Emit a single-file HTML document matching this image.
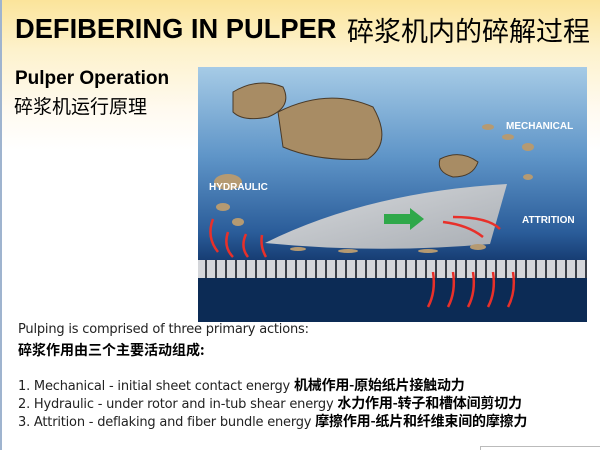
<!DOCTYPE html>
<html><head><meta charset="utf-8"><style>
*{margin:0;padding:0;box-sizing:border-box}
body{width:600px;height:450px;overflow:hidden;position:relative;font-family:"Liberation Sans","Noto Sans CJK SC",sans-serif;
background:linear-gradient(#fbe49a 0px,#fdf2cc 50px,#fffaf0 110px,#fff 150px);}
.lb{position:absolute;left:0;top:0;width:2px;height:450px;background:#9fb4cf}
.t{position:absolute;white-space:nowrap;color:#000}
.sub{font-family:"DejaVu Sans","Noto Sans CJK SC",sans-serif;font-size:13px;color:#222;letter-spacing:-0.2px}
.cn{font-family:"Noto Sans CJK SC",sans-serif;font-weight:bold;font-size:14px}
</style></head><body>
<div class="lb"></div>
<div class="t" style="left:15px;top:13px;font-size:27.3px;font-weight:bold;">DEFIBERING IN PULPER</div>
<div class="t" style="left:347px;top:10px;font-size:27px;font-family:'Noto Sans CJK SC',sans-serif">碎浆机内的碎解过程</div>
<div class="t" style="left:15px;top:68px;font-size:19px;font-weight:bold">Pulper Operation</div>
<div class="t" style="left:14px;top:92px;font-size:19px;font-family:'Noto Sans CJK SC',sans-serif">碎浆机运行原理</div>
<svg style="position:absolute;left:198px;top:67px" width="389" height="255" viewBox="0 0 389 255">
<defs>
<linearGradient id="sky" x1="0" y1="0" x2="0" y2="1">
<stop offset="0" stop-color="#a6cbe6"/><stop offset="0.35" stop-color="#5f95c8"/><stop offset="0.65" stop-color="#2a5c99"/><stop offset="0.76" stop-color="#163c72"/></linearGradient>
<linearGradient id="blade" x1="0" y1="0" x2="1" y2="1"><stop offset="0" stop-color="#d8dadd"/><stop offset="1" stop-color="#a9aeb4"/></linearGradient>
<pattern id="scr" width="10" height="18" patternUnits="userSpaceOnUse"><rect width="10" height="18" fill="#d4d6da"/><rect x="7" width="2" height="18" fill="#3a3f48"/></pattern>
</defs>
<rect width="389" height="255" fill="url(#sky)"/>
<rect y="193" width="389" height="62" fill="#0c2b55"/>
<rect y="193" width="389" height="18" fill="url(#scr)"/>
<path d="M67 176 Q170 125 309 117 L292 177 Q180 187 67 176Z" fill="url(#blade)"/>
<path d="M186 147 h26 v-6 l14 11 -14 11 v-6 h-26z" fill="#2fa84a"/>
<g fill="#a88c64" stroke="#4a3a28" stroke-width="1">
<path d="M35 25 Q60 10 85 20 Q95 40 70 50 Q45 55 35 45Z"/>
<path d="M80 45 Q130 20 175 40 Q195 75 170 92 Q120 95 85 80Z"/>
<path d="M242 92 Q262 82 280 95 Q275 110 255 110 Q238 105 242 92Z"/>
</g>
<g fill="#b59a72">
<ellipse cx="30" cy="115" rx="14" ry="8"/><ellipse cx="25" cy="140" rx="7" ry="4"/><ellipse cx="40" cy="155" rx="6" ry="4"/>
<ellipse cx="290" cy="60" rx="6" ry="3"/><ellipse cx="310" cy="70" rx="6" ry="3"/><ellipse cx="330" cy="110" rx="5" ry="3"/>
<ellipse cx="330" cy="80" rx="6" ry="4"/><ellipse cx="100" cy="182" rx="8" ry="2"/><ellipse cx="150" cy="184" rx="10" ry="2"/><ellipse cx="230" cy="184" rx="10" ry="2"/><ellipse cx="280" cy="180" rx="8" ry="3"/>
</g>
<g fill="none" stroke="#e8302a" stroke-width="2.5">
<path d="M20 185 Q8 170 15 152"/><path d="M35 190 Q25 180 30 165"/><path d="M50 190 Q42 180 48 167"/><path d="M68 190 Q62 180 64 168"/>
<path d="M245 155 Q270 158 285 170"/><path d="M255 150 Q290 150 302 162"/>
<path d="M235 205 Q238 225 230 240"/><path d="M255 205 Q258 225 250 240"/><path d="M275 205 Q278 225 270 240"/><path d="M295 205 Q298 225 290 240"/><path d="M315 205 Q318 225 310 240"/>
</g>
<g fill="#fff" font-family="Liberation Sans,sans-serif" font-weight="bold" font-size="10">
<text x="11" y="123">HYDRAULIC</text><text x="308" y="62">MECHANICAL</text><text x="324" y="156">ATTRITION</text></g>
</svg>
<div class="t sub" style="left:18px;top:322px">Pulping is comprised of three primary actions:</div>
<div class="t cn" style="left:18px;top:340px">碎浆作用由三个主要活动组成:</div>
<div class="t sub" style="left:18px;top:375px">1. Mechanical - initial sheet contact energy <span class="cn" style="color:#000">机械作用-原始纸片接触动力</span></div>
<div class="t sub" style="left:18px;top:393px">2. Hydraulic - under rotor and in-tub shear energy <span class="cn" style="color:#000">水力作用-转子和槽体间剪切力</span></div>
<div class="t sub" style="left:18px;top:411px">3. Attrition - deflaking and fiber bundle energy <span class="cn" style="color:#000">摩擦作用-纸片和纤维束间的摩擦力</span></div>
<div style="position:absolute;left:480px;top:446px;width:120px;height:4px;border-top:1px solid #bbb;border-left:1px solid #bbb"></div>
</body></html>
